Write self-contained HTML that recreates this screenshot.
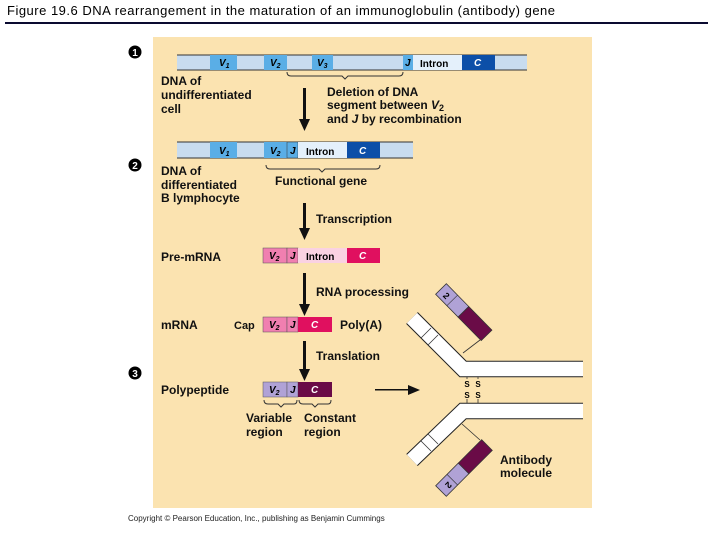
<!DOCTYPE html>
<html><head><meta charset="utf-8"><style>
body{margin:0;background:#fff;}
svg text{font-family:"Liberation Sans",Arial,sans-serif;}
.b{font-weight:bold;font-size:12px;fill:#111;}
.s{font-weight:bold;font-size:10px;font-style:italic;}
</style></head><body>
<svg width="720" height="540" viewBox="0 0 720 540" xmlns="http://www.w3.org/2000/svg">
<text x="7" y="15" font-size="13" fill="#000" textLength="548" lengthAdjust="spacing">Figure 19.6  DNA rearrangement in the maturation of an immunoglobulin (antibody) gene</text>
<rect x="5" y="22" width="703" height="2" fill="#0a0a30"/>
<rect x="153" y="37" width="439" height="471" fill="#fbe3b0"/>
<g font-size="12" font-weight="bold">
<circle cx="135" cy="52" r="6.5" fill="#000"/><text x="135" y="56" fill="#fff" text-anchor="middle" font-size="10">1</text>
<circle cx="135" cy="165" r="6.5" fill="#000"/><text x="135" y="169" fill="#fff" text-anchor="middle" font-size="10">2</text>
<circle cx="135" cy="373" r="6.5" fill="#000"/><text x="135" y="377" fill="#fff" text-anchor="middle" font-size="10">3</text>
</g>
<rect x="177" y="55" width="350" height="15" fill="#c8dcef"/>
<line x1="177" y1="55" x2="527" y2="55" stroke="#333"/><line x1="177" y1="70" x2="527" y2="70" stroke="#333"/>
<rect x="210" y="55" width="27" height="15" fill="#5aaee6"/>
<rect x="264" y="55" width="23" height="15" fill="#5aaee6"/>
<rect x="312" y="55" width="21" height="15" fill="#5aaee6"/>
<rect x="403" y="55" width="10" height="15" fill="#5aaee6"/>
<rect x="413" y="55" width="49" height="15" fill="#e4f0fb"/>
<rect x="462" y="55" width="33" height="15" fill="#0c4fa8"/>
<text x="219" y="66" class="s">V<tspan font-size="7" dy="2">1</tspan></text>
<text x="270" y="66" class="s">V<tspan font-size="7" dy="2">2</tspan></text>
<text x="317" y="66" class="s">V<tspan font-size="7" dy="2">3</tspan></text>
<text x="405" y="66" class="s">J</text>
<text x="420" y="67" font-size="10" font-weight="bold">Intron</text>
<text x="474" y="66" class="s" fill="#fff">C</text>
<path d="M287 72 q0 4 4 4 H342 l3 3 l3 -3 H399 q4 0 4 -4" fill="none" stroke="#333"/>
<g class="b">
<text x="161" y="85">DNA of</text><text x="161" y="99">undifferentiated</text><text x="161" y="113">cell</text>
<text x="327" y="96">Deletion of DNA</text><text x="327" y="109">segment between <tspan font-style="italic">V</tspan><tspan font-size="9" dy="2">2</tspan></text><text x="327" y="123">and <tspan font-style="italic">J</tspan> by recombination</text>
</g>
<g fill="#111">
<rect x="303" y="88" width="3" height="33"/><path d="M299 119 h11 l-5.5 12z"/>
<rect x="303" y="203" width="3" height="27"/><path d="M299 228 h11 l-5.5 12z"/>
<rect x="303" y="273" width="3" height="33"/><path d="M299 304 h11 l-5.5 12z"/>
<rect x="303" y="341" width="3" height="30"/><path d="M299 369 h11 l-5.5 12z"/>
<rect x="375" y="389" width="35" height="1.5"/><path d="M408 385 l12 5 l-12 5z"/>
</g>
<rect x="177" y="142" width="236" height="16" fill="#c8dcef"/>
<line x1="177" y1="142" x2="413" y2="142" stroke="#333"/><line x1="177" y1="158" x2="413" y2="158" stroke="#333"/>
<rect x="210" y="142" width="27" height="16" fill="#5aaee6"/>
<rect x="264" y="142" width="23" height="16" fill="#5aaee6"/>
<rect x="287" y="142" width="11" height="16" fill="#5aaee6" stroke="#333" stroke-width="0.5"/>
<rect x="298" y="142" width="49" height="16" fill="#e4f0fb"/>
<rect x="347" y="142" width="33" height="16" fill="#0c4fa8"/>
<text x="219" y="154" class="s">V<tspan font-size="7" dy="2">1</tspan></text>
<text x="270" y="154" class="s">V<tspan font-size="7" dy="2">2</tspan></text>
<text x="290" y="154" class="s">J</text>
<text x="306" y="155" font-size="10" font-weight="bold">Intron</text>
<text x="359" y="154" class="s" fill="#fff">C</text>
<path d="M266 165 q0 4 4 4 H319 l3 3 l3 -3 H376 q4 0 4 -4" fill="none" stroke="#333"/>
<g class="b">
<text x="161" y="175">DNA of</text><text x="161" y="189">differentiated</text><text x="161" y="202">B lymphocyte</text>
<text x="275" y="185">Functional gene</text>
<text x="316" y="223">Transcription</text>
<text x="161" y="261">Pre-mRNA</text>
<text x="316" y="296">RNA processing</text>
<text x="161" y="329">mRNA</text>
<text x="234" y="329" font-size="11">Cap</text>
<text x="340" y="329">Poly(A)</text>
<text x="316" y="360">Translation</text>
<text x="161" y="394">Polypeptide</text>
<text x="246" y="422">Variable</text><text x="246" y="436">region</text>
<text x="304" y="422">Constant</text><text x="304" y="436">region</text>
<text x="500" y="464">Antibody</text><text x="500" y="477">molecule</text>
</g>
<rect x="263" y="248" width="24" height="15" fill="#f07fb0" stroke="#555" stroke-width="0.5"/>
<rect x="287" y="248" width="11" height="15" fill="#f07fb0" stroke="#555" stroke-width="0.5"/>
<rect x="298" y="248" width="49" height="15" fill="#fad2e2"/>
<rect x="347" y="248" width="33" height="15" fill="#e0105f"/>
<text x="269" y="259" class="s">V<tspan font-size="7" dy="2">2</tspan></text>
<text x="290" y="259" class="s">J</text>
<text x="306" y="260" font-size="10" font-weight="bold">Intron</text>
<text x="359" y="259" class="s" fill="#fff">C</text>
<rect x="263" y="317" width="24" height="15" fill="#f07fb0" stroke="#555" stroke-width="0.5"/>
<rect x="287" y="317" width="11" height="15" fill="#f07fb0" stroke="#555" stroke-width="0.5"/>
<rect x="298" y="317" width="34" height="15" fill="#e0105f"/>
<text x="269" y="328" class="s">V<tspan font-size="7" dy="2">2</tspan></text>
<text x="290" y="328" class="s">J</text>
<text x="311" y="328" class="s" fill="#fff">C</text>
<rect x="263" y="382" width="24" height="15" fill="#b0a2d6" stroke="#555" stroke-width="0.5"/>
<rect x="287" y="382" width="11" height="15" fill="#b0a2d6" stroke="#555" stroke-width="0.5"/>
<rect x="298" y="382" width="34" height="15" fill="#6a0b47"/>
<text x="269" y="393" class="s">V<tspan font-size="7" dy="2">2</tspan></text>
<text x="290" y="393" class="s">J</text>
<text x="311" y="393" class="s" fill="#fff">C</text>
<path d="M264 400 q0 4 4 4 H278 l3 3 l3 -3 H294 q3 0 3 -4" fill="none" stroke="#333"/>
<path d="M299 400 q0 4 4 4 H312 l3 3 l3 -3 H328 q3 0 3 -4" fill="none" stroke="#333"/>
<g fill="none" stroke-linejoin="miter">
<polyline points="412,318 463,369 583,369" stroke="#222" stroke-width="16.5"/>
<polyline points="412,318 463,369 584,369" stroke="#fff" stroke-width="14.5"/>
<polyline points="583,411 463,411 412,460" stroke="#222" stroke-width="16.5"/>
<polyline points="584,411 463,411 412,460" stroke="#fff" stroke-width="14.5"/>
</g>
<rect x="583" y="360" width="9" height="60" fill="#fbe3b0"/>
<g stroke="#333" stroke-width="0.8">
<line x1="421" y1="338" x2="431" y2="328"/><line x1="428" y1="345" x2="438" y2="335"/>
<line x1="421" y1="441" x2="431" y2="451"/><line x1="428" y1="434" x2="438" y2="444"/>
<line x1="467" y1="377" x2="467" y2="403"/><line x1="478" y1="377" x2="478" y2="403"/>
<line x1="463" y1="353" x2="480" y2="340"/><line x1="462" y1="424" x2="480" y2="440"/>
</g>
<g font-size="8" font-weight="bold" text-anchor="middle">
<rect x="463" y="379" width="8" height="20" fill="#fbe3b0"/><rect x="474" y="379" width="8" height="20" fill="#fbe3b0"/>
<text x="467" y="387">S</text><text x="467" y="398">S</text>
<text x="478" y="387">S</text><text x="478" y="398">S</text>
</g>
<g transform="translate(441,289) rotate(45.5)">
<rect x="0" y="-7.5" width="32" height="15" fill="#b0a2d6" stroke="#333" stroke-width="0.8"/>
<rect x="32" y="-7.5" width="33" height="15" fill="#6a0b47" stroke="#333" stroke-width="0.8"/>
<line x1="16" y1="-7.5" x2="16" y2="7.5" stroke="#333" stroke-width="0.6"/>
<text x="6" y="4" font-size="9" font-weight="bold">2</text>
</g>
<g transform="translate(441,491) rotate(-45)">
<rect x="0" y="-7.5" width="32" height="15" fill="#b0a2d6" stroke="#333" stroke-width="0.8"/>
<rect x="32" y="-7.5" width="33" height="15" fill="#6a0b47" stroke="#333" stroke-width="0.8"/>
<line x1="16" y1="-7.5" x2="16" y2="7.5" stroke="#333" stroke-width="0.6"/>
<text x="6" y="4" font-size="9" font-weight="bold" transform="rotate(180 9 1)">2</text>
</g>
<text x="128" y="521" font-size="8" fill="#222">Copyright © Pearson Education, Inc., publishing as Benjamin Cummings</text>
</svg>
</body></html>
